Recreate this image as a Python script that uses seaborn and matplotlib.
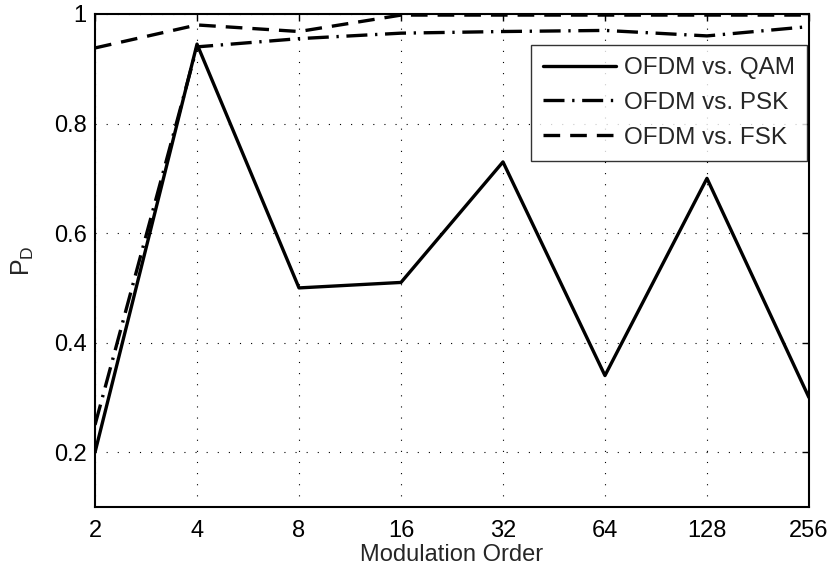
import pandas as pd
import matplotlib
matplotlib.use('Agg')
import matplotlib.pyplot as plt
import seaborn as sns

# data
orders = [2, 4, 8, 16, 32, 64, 128, 256]
pd_qam = [0.20, 0.945, 0.50, 0.51, 0.73, 0.34, 0.70, 0.30]
pd_psk = [0.25, 0.940, 0.955, 0.965, 0.968, 0.970, 0.960, 0.977]
pd_fsk = [0.938, 0.980, 0.968, 0.998, 0.998, 0.998, 0.998, 0.998]
labels = ['OFDM vs. QAM', 'OFDM vs. PSK', 'OFDM vs. FSK']
yticks = [0.2, 0.4, 0.6, 0.8, 1.0]
ytick_labels = ['0.2', '0.4', '0.6', '0.8', '1']

sns.set_style('white')
plt.rcParams['font.family'] = ['Liberation Sans', 'DejaVu Sans']

df = pd.concat([
    pd.DataFrame({'order': orders, 'pd': pd_qam, 'curve': labels[0]}),
    pd.DataFrame({'order': orders, 'pd': pd_psk, 'curve': labels[1]}),
    pd.DataFrame({'order': orders, 'pd': pd_fsk, 'curve': labels[2]}),
])

fig = plt.figure(figsize=(8.35, 5.71), dpi=100)
ax = fig.add_axes([0.1138, 0.112, 0.855, 0.8635])

sns.lineplot(data=df, x='order', y='pd', hue='curve', style='curve',
             hue_order=labels, style_order=labels,
             palette=['black'] * 3,
             dashes={labels[0]: '', labels[1]: (6.3, 2.3, 0.7, 2.3), labels[2]: (5, 3)},
             linewidth=2.4, ax=ax)

ax.set_xscale('log', base=2)
ax.set_xlim(2, 256)
ax.set_ylim(0.1, 1.0)
ax.set_xticks(orders)
ax.set_xticklabels([str(o) for o in orders])
ax.minorticks_off()
ax.set_yticks(yticks)
ax.set_yticklabels(ytick_labels)

ax.set_xlabel('Modulation Order', fontsize=17, labelpad=2)
ax.set_ylabel('$\\mathregular{P_D}$', fontsize=18, labelpad=13)

ax.tick_params(direction='in', length=5, width=1, top=True, right=True,
               labelsize=17, pad=6, colors='black')
ax.tick_params(axis='x', pad=9)
ax.grid(True, color='black', linestyle=(0, (1, 9)), linewidth=0.8)
for s in ax.spines.values():
    s.set_visible(True)
    s.set_color('black')
    s.set_linewidth(1.5)

leg = ax.legend(loc='upper right', bbox_to_anchor=(0.997, 0.937), borderaxespad=0,
                fontsize=17.5, frameon=True, fancybox=False, edgecolor='black',
                handlelength=3.0, handletextpad=0.3, labelspacing=0.52,
                borderpad=0.5)
leg.get_frame().set_linewidth(1.0)

fig.savefig('out.png', dpi=100)
